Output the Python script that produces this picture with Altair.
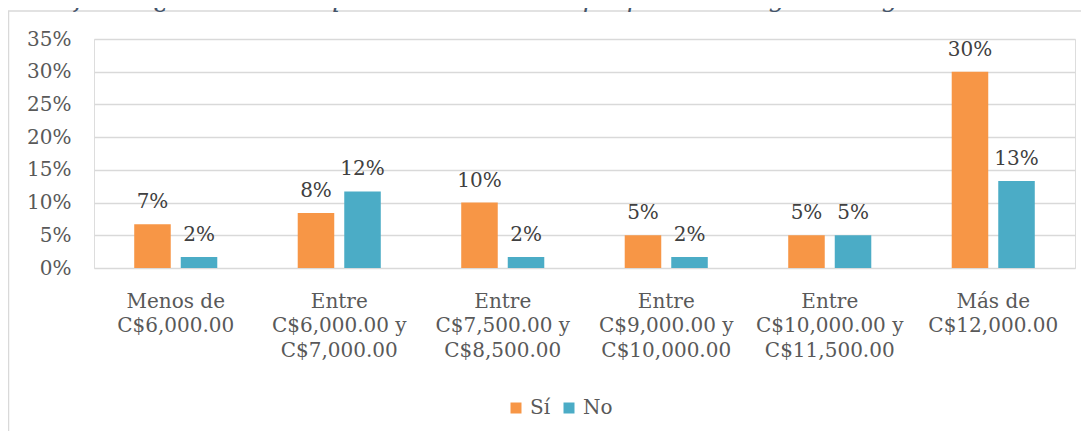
import altair as alt
import pandas as pd

categories = [
    "Menos de\nC$6,000.00",
    "Entre\nC$6,000.00 y\nC$7,000.00",
    "Entre\nC$7,500.00 y\nC$8,500.00",
    "Entre\nC$9,000.00 y\nC$10,000.00",
    "Entre\nC$10,000.00 y\nC$11,500.00",
    "Más de\nC$12,000.00",
]
series = ["Sí", "No"]
si_values = [0.067, 0.084, 0.100, 0.050, 0.050, 0.300]
no_values = [0.017, 0.117, 0.017, 0.017, 0.050, 0.133]
colors = ["#F79646", "#4BACC6"]
y_ticks = [0, 0.05, 0.10, 0.15, 0.20, 0.25, 0.30, 0.35]
title_text = "Gráfico 5 ¿La vivienda que habita es de su propiedad? Según el ingreso mensual"

rows = []
for c, s, n in zip(categories, si_values, no_values):
    rows.append({"cat": c, "serie": "Sí", "valor": s})
    rows.append({"cat": c, "serie": "No", "valor": n})
df = pd.DataFrame(rows)

FONT = "DejaVu Serif"

x = alt.X(
    "cat:N", sort=categories, title=None,
    scale=alt.Scale(paddingInner=0.492, paddingOuter=0.246),
    axis=alt.Axis(
        labelAngle=0, labelExpr="split(datum.label, '\\n')",
        labelFont=FONT, labelFontSize=20, labelColor="#595959",
        labelLineHeight=24.5, labelBaseline="alphabetic", labelPadding=39,
        ticks=False, tickSize=0, domain=False, grid=False, labelLimit=300,
    ),
)
xo = alt.XOffset("serie:N", sort=series,
                 scale=alt.Scale(paddingInner=0.215, paddingOuter=0))
y = alt.Y(
    "valor:Q", title=None,
    scale=alt.Scale(domain=[0, 0.35]),
    axis=alt.Axis(
        values=y_ticks, format=".0%", labelFont=FONT, labelFontSize=20,
        labelColor="#595959", labelPadding=23, ticks=False, tickSize=0,
        domain=False, grid=True, gridColor="#D9D9D9", gridWidth=1.5,
    ),
)

base = alt.Chart(df).encode(x=x, xOffset=xo, y=y)

bars = base.mark_bar().encode(
    color=alt.Color(
        "serie:N", sort=series,
        scale=alt.Scale(domain=series, range=colors),
        legend=alt.Legend(
            title=None, orient="none", legendX=412, legendY=359,
            direction="horizontal", symbolType="square", symbolSize=121,
            symbolStrokeWidth=0, labelFont=FONT, labelFontSize=20,
            labelColor="#595959", labelOffset=4, columnPadding=8,
        ),
    )
)

labels = base.mark_text(
    dy=-16, font=FONT, fontSize=20, color="#404040", baseline="alphabetic"
).encode(text=alt.Text("valor:Q", format=".0%"))

frame_df = pd.DataFrame({"k": [0]})
frame = alt.Chart(frame_df).mark_rect(
    fillOpacity=0, stroke="#D9D9D9", strokeWidth=1.5
).encode(
    x=alt.value(-85.5), x2=alt.value(1200),
    y=alt.value(-28), y2=alt.value(600),
)

title_df = pd.DataFrame({"t": [title_text]})
title = alt.Chart(title_df).mark_text(
    font=FONT, fontSize=25.5, fontStyle="italic", color="#44546A",
    align="left", baseline="alphabetic",
).encode(
    x=alt.value(-67), y=alt.value(-32), text="t:N"
)

chart = alt.layer(frame, bars, labels, title).properties(
    width=981, height=229,
    autosize=alt.AutoSizeParams(type="none"),
    padding={"left": 86, "top": 31, "right": 6, "bottom": 163},
).configure_view(stroke=None).configure(background="white")

chart.save("out.html", embed_options={"renderer": "svg", "actions": False})
